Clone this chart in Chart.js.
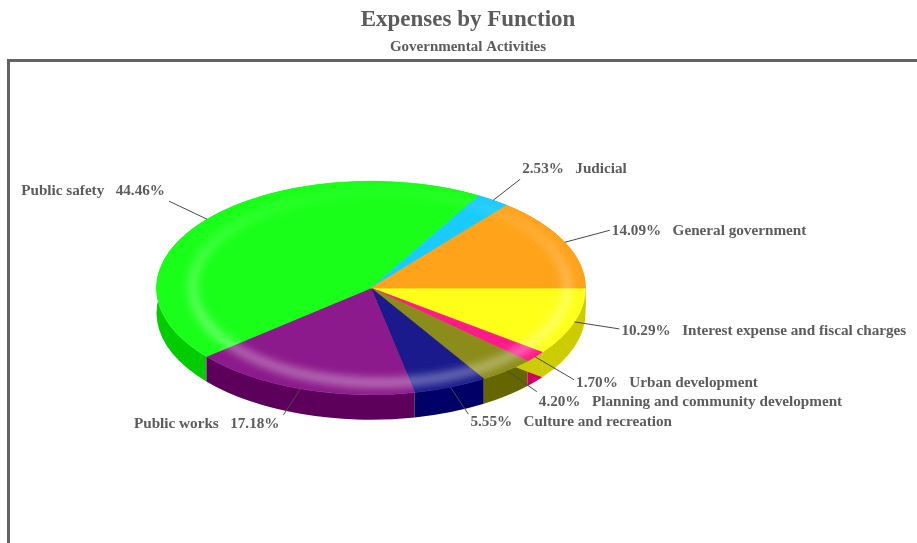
<!DOCTYPE html>
<html>
<head>
<meta charset="utf-8">
<title>Expenses by Function</title>
<script src="https://cdn.jsdelivr.net/npm/chart.js@4"></script>
<style>
  html, body { margin: 0; padding: 0; background: #fff; overflow: hidden; }
  canvas { display: block; }
</style>
</head>
<body>
<canvas id="my-chart" width="936" height="543"></canvas>
<script>
'use strict';

// #pragma Data

let categories = ['Interest expense and fiscal charges', 'Urban development', 'Planning and community development',
  'Culture and recreation', 'Public works', 'Public safety', 'Judicial', 'General government'];
let shares = [10.29, 1.70, 4.20, 5.55, 17.18, 44.46, 2.53, 14.09];
let topColors = ['#ffff1a', '#ff1a8c', '#8c8c1a', '#1a1a8c', '#8c1a8c', '#1aff1a', '#1acbff', '#ffa31a'];
let wallColors = ['#cccc00', '#cc0066', '#666600', '#000066', '#5c005c', '#00cc00', '#00a0cc', '#cc7a00'];

// where each leader line ends, measured from its point on the rim
let leaderDx = [45, 39, 30, 18, -17, -38, 27, 45];
let leaderDy = [7, 23, 21, 27, 26, -18, -21, -12];
// text offset from the end of the leader line
let textDy = [2, 3, 10, 8, 9, -10, -10, 1];

// #pragma Pie Shape

let tilt = 107 / 215;
let depth = 25;
let fontText = 'bold 15.2px "Liberation Serif"';
let inkColor = '#5c5c5c';

// side wall under the rim of one slice, straight down from the top face
function wallPath(ctx, arc) {
  let ry = arc.outerRadius * tilt;
  ctx.beginPath();
  ctx.ellipse(arc.x, arc.y, arc.outerRadius, ry, 0, arc.startAngle, arc.endAngle);
  ctx.ellipse(arc.x, arc.y + depth, arc.outerRadius, ry, 0, arc.endAngle, arc.startAngle, true);
  ctx.closePath();
}

// the cut face along the end of a slice
function cutFacePath(ctx, arc) {
  let rimX = arc.x + arc.outerRadius * Math.cos(arc.endAngle);
  let rimY = arc.y + arc.outerRadius * tilt * Math.sin(arc.endAngle);
  ctx.beginPath();
  ctx.moveTo(arc.x, arc.y);
  ctx.lineTo(rimX, rimY);
  ctx.lineTo(rimX, rimY + depth);
  ctx.lineTo(arc.x, arc.y + depth);
  ctx.closePath();
}

let framePlugin = {
  id: 'frame',
  afterLayout(chart) {
    // the pie sits left of the middle, the titles stay on the whole canvas
    chart.boxes.forEach(function (box) {
      if (box.options && box.options.text) {
        box.left = 0;
        box.right = chart.width;
      }
    });
  },
  beforeDraw(chart) {
    let ctx = chart.ctx;
    ctx.save();
    ctx.strokeStyle = '#636363';
    ctx.lineWidth = 3;
    ctx.strokeRect(8.5, 60.5, 1200, 1200);
    ctx.restore();
  },
};

let tiltPlugin = {
  id: 'tilt',
  beforeDatasetsDraw(chart) {
    let ctx = chart.ctx;
    let arcs = chart.getDatasetMeta(0).data;

    for (let i = arcs.length - 1; i >= 0; i--) {
      ctx.fillStyle = wallColors[i];
      wallPath(ctx, arcs[i]);
      ctx.fill();
    }

    // the yellow cut face shows past the olive and pink rims in the original
    ctx.fillStyle = wallColors[0];
    cutFacePath(ctx, arcs[0]);
    ctx.fill();

    // squash the library's own pie into the top face
    ctx.save();
    ctx.translate(0, arcs[0].y);
    ctx.scale(1, tilt);
    ctx.translate(0, -arcs[0].y);
  },
  afterDatasetsDraw(chart) {
    let ctx = chart.ctx;
    ctx.restore();

    let arc = chart.getDatasetMeta(0).data[0];
    let rx = arc.outerRadius;
    let ry = rx * tilt;

    // soft light band near the rim
    ctx.save();
    ctx.beginPath();
    ctx.ellipse(arc.x, arc.y, rx, ry, 0, 0, Math.PI * 2);
    ctx.clip();
    let light = ctx.createLinearGradient(0, arc.y - ry, 0, arc.y + ry);
    light.addColorStop(0, 'rgba(255,255,255,0.02)');
    light.addColorStop(0.5, 'rgba(255,255,255,0.28)');
    light.addColorStop(1, 'rgba(255,255,255,0.42)');
    ctx.filter = 'blur(4px)';
    ctx.strokeStyle = light;
    ctx.lineWidth = 9;
    ctx.beginPath();
    ctx.ellipse(arc.x + 9, arc.y - 1, rx - 27, ry - 11, 0, 0, Math.PI * 2);
    ctx.stroke();
    ctx.restore();
  },
};

let labelPlugin = {
  id: 'sliceLabels',
  afterDraw(chart) {
    let ctx = chart.ctx;
    let arcs = chart.getDatasetMeta(0).data;

    ctx.save();
    ctx.font = fontText;
    ctx.textBaseline = 'middle';
    for (let i = 0; i < arcs.length; i++) {
      let mid = (arcs[i].startAngle + arcs[i].endAngle) / 2;
      let startX = arcs[i].x + arcs[i].outerRadius * Math.cos(mid);
      let startY = arcs[i].y + arcs[i].outerRadius * tilt * Math.sin(mid);
      let endX = startX + leaderDx[i];
      let endY = startY + leaderDy[i];

      ctx.strokeStyle = '#4a4a4a';
      ctx.lineWidth = 1;
      ctx.beginPath();
      ctx.moveTo(startX, startY);
      ctx.lineTo(endX, endY);
      ctx.stroke();

      let percent = shares[i].toFixed(2) + '%';
      ctx.fillStyle = inkColor;
      if (leaderDx[i] < 0) {
        ctx.textAlign = 'right';
        ctx.fillText(categories[i] + '   ' + percent, endX - 4, endY + textDy[i]);
      } else {
        ctx.textAlign = 'left';
        ctx.fillText(percent + '   ' + categories[i], endX + 2, endY + textDy[i]);
      }
    }
    ctx.restore();
  },
};

// #pragma Executable

let chartContext = document.getElementById('my-chart').getContext('2d');

let chartConfig = {
  type: 'pie',
  data: {
    labels: categories,
    datasets: [{
      data: shares,
      backgroundColor: topColors,
      borderColor: topColors,
      borderWidth: 1,
    }],
  },
  options: {
    responsive: false,
    animation: false,
    rotation: 90,
    layout: { padding: { left: 156, right: 350, top: 0, bottom: 40 } },
    plugins: {
      legend: { display: false },
      tooltip: { enabled: false },
      title: {
        display: true,
        text: 'Expenses by Function',
        color: inkColor,
        font: { family: 'Liberation Serif', size: 23, weight: 'bold' },
        padding: { top: 6.5, bottom: 4 },
      },
      subtitle: {
        display: true,
        text: 'Governmental Activities',
        color: inkColor,
        font: { family: 'Liberation Serif', size: 15, weight: 'bold' },
        padding: { top: 0, bottom: 16.9 },
      },
    },
  },
  plugins: [framePlugin, tiltPlugin, labelPlugin],
};

let myChart = new Chart(chartContext, chartConfig);
</script>
</body>
</html>
